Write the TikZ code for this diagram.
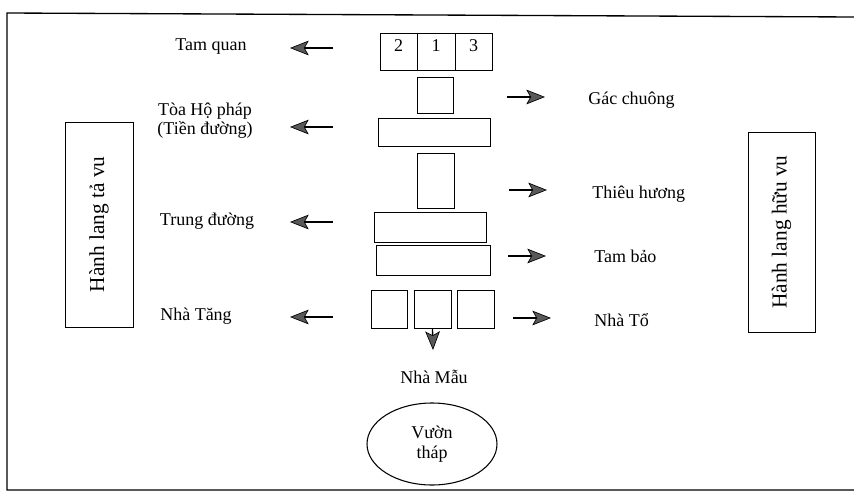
\documentclass[tikz,border=0pt]{standalone}
\usepackage{fontspec}
\setmainfont{Liberation Serif}
\usetikzlibrary{arrows.meta,shapes.geometric,fit}
\tikzset{
  bo/.style={draw, inner sep=0pt, line width=0.6pt},
  lbl/.style={font=\fontsize{13.5}{14}\selectfont, align=center, inner sep=0pt},
  hl/.style={lbl, font=\fontsize{16}{18}\selectfont, rotate=90},
  pil/.style={line width=1pt, -{Stealth[length=14pt,width=11pt,inset=3pt,fill=gray!70!black,line width=0.5pt]}},
}
\begin{document}
\begin{tikzpicture}[x=0.75pt,y=-0.75pt]
\useasboundingbox (0,0) rectangle (854,500);
% khung
\draw[line width=1pt] (854,17) -- (7,13) -- (7,490) -- (854,490);

% truc giua
\node[bo, lbl, fit={(380,33) (417,70)}] (tq2) {2};
\node[bo, lbl, fit={(417,33) (455,70)}] (tq1) {1};
\node[bo, lbl, fit={(455,33) (492,70)}] (tq3) {3};
\node[bo, fit={(417,77) (453,113)}] (gcb) {};
\node[bo, fit={(378,118) (490,146)}] (tdb) {};
\node[bo, fit={(417,153) (454,208)}] (thb) {};
\node[bo, fit={(374,212) (486,242)}] (trb) {};
\node[bo, fit={(376,245) (490,275)}] (tbb) {};
\node[bo, fit={(371,290) (407,328)}] (nt1) {};
\node[bo, fit={(414,290) (451,328)}] (nt2) {};
\node[bo, fit={(457,290) (494,328)}] (nt3) {};

% hanh lang
\node[bo, fit={(65,122) (133,327)}] (hlt) {};
\node[hl] (hlt-t) at (hlt.center) {Hành lang tả vu};
\node[bo, fit={(748,132) (815,332)}] (hlh) {};
\node[hl] (hlh-t) at (hlh.center) {Hành lang hữu vu};

% nhan trai
\node[lbl] (tq) at (211,47) {Tam quan};
\node[lbl] (td) at (205,121) {Tòa Hộ pháp\\(Tiền đường)};
\node[lbl] (trd) at (207,221) {Trung đường};
\node[lbl] (ntg) at (196,316) {Nhà Tăng};

% nhan phai
\node[lbl, anchor=west] (gc) at (588,100) {Gác chuông};
\node[lbl, anchor=west] (th) at (592,194) {Thiêu hương};
\node[lbl, anchor=west] (tb) at (594,256) {Tam bảo};
\node[lbl, anchor=west] (nto) at (594,320) {Nhà Tổ};

\node[lbl] (nm) at (434,377) {Nhà Mẫu};
\node[lbl, draw, ellipse, line width=0.8pt, font=\fontsize{13.5}{15}\selectfont,
  minimum width=97.5pt, minimum height=61.5pt] (vt) at (432,444) {Vườn\\tháp};

% mui ten
\foreach \n/\y in {1/48,2/127,3/222,4/317}{
  \coordinate (la\n) at (333,\y);
  \coordinate (lb\n) at (290,\y);
  \draw[pil] (la\n) -- (lb\n);
}
\foreach \n/\x/\y in {1/507/97,2/509/190,3/508/256,4/513/318}{
  \coordinate (ra\n) at (\x,\y);
  \coordinate (rb\n) at (\x+38,\y);
  \draw[pil] (ra\n) -- (rb\n);
}
\coordinate (nmd) at (433,350);
\draw[pil] (nt2.south) -- (nmd);
\end{tikzpicture}
\end{document}
